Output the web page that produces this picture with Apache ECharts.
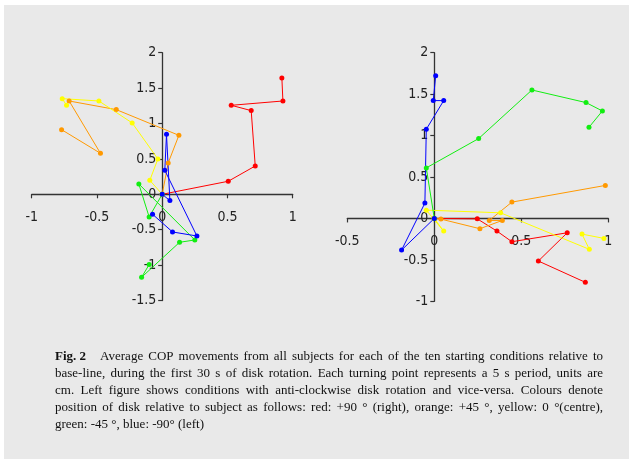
<!DOCTYPE html>
<html><head><meta charset="utf-8">
<script src="https://cdn.jsdelivr.net/npm/echarts@6/dist/echarts.min.js"></script>
<style>
html,body{margin:0;padding:0;background:#fff;}
#panel{position:absolute;left:4px;top:5px;width:625px;height:454px;background:#e9e9e9;}
#c{position:absolute;left:0;top:0;width:632px;height:459px;}
</style>
</head><body><div id="panel"></div><div id="c"></div>
<script>
// ---- data (x, y in cm) ----
const leftRed    = [[0,0],[0.506,0.184],[0.713,0.40],[0.682,1.182],[0.529,1.257],[0.925,1.318],[0.917,1.643]];
const leftOrange = [[0,0],[0.046,0.443],[0.128,0.833],[-0.352,1.196],[-0.713,1.318],[-0.473,0.579],[-0.771,0.913]];
const leftYellow = [[0,0],[-0.095,0.198],[-0.033,0.499],[-0.230,1.008],[-0.485,1.318],[-0.766,1.351],[-0.733,1.257]];
const leftGreen  = [[0,0],[-0.10,-0.32],[-0.179,0.146],[0.25,-0.645],[0.133,-0.678],[-0.158,-1.172],[-0.10,-0.993]];
const leftBlue   = [[0,0],[0.059,-0.089],[0.033,0.847],[0.020,0.339],[0.266,-0.589],[0.079,-0.532],[-0.074,-0.282]];

const rightRed    = [[0,0],[0.247,-0.005],[0.360,-0.153],[0.446,-0.281],[0.764,-0.173],[0.598,-0.514],[0.868,-0.771]];
const rightOrange = [[0,0],[0.038,-0.008],[0.262,-0.124],[0.391,-0.024],[0.316,-0.024],[0.446,0.197],[0.983,0.398]];
const rightYellow = [[0,0],[0.054,-0.153],[-0.046,0.100],[0.381,0.068],[0.891,-0.373],[0.849,-0.189],[0.975,-0.241]];
const rightGreen  = [[0,0],[-0.046,0.610],[0.255,0.964],[0.561,1.550],[0.872,1.398],[0.966,1.297],[0.889,1.100]];
const rightBlue   = [[0,0],[-0.188,-0.382],[-0.054,0.185],[-0.046,1.076],[0.054,1.422],[-0.006,1.422],[0.008,1.723]];

const leftXRange = [-1, 1];
const leftYRange = [-1.5, 2];
const rightXRange = [-0.5, 1];
const rightYRange = [-1, 2];
const tickStep = 0.5;

const captionLines = [
  "Fig. 2|Average COP movements from all subjects for each of the ten starting conditions relative to",
  "base-line, during the first 30 s of disk rotation. Each turning point represents a 5 s period, units are",
  "cm. Left figure shows conditions with anti-clockwise disk rotation and vice-versa. Colours denote",
  "position of disk relative to subject as follows: red: +90 \u00b0 (right), orange: +45 \u00b0, yellow: 0 \u00b0(centre),",
  "green: -45 \u00b0, blue: -90\u00b0 (left)"
];

const colors = {red:'#ff0000', orange:'#ff9900', yellow:'#ffff00', green:'#11ee11', blue:'#0000ff'};
const labelFont = "'Liberation Sans Narrow','Arial Narrow','DejaVu Sans Condensed',sans-serif";

const grids = [
  {left:31.7, top:52.7, width:261, height:247.8},
  {left:347.3, top:52.7, width:261, height:248.6}
];

// place each axis on the other axis' zero line (labels included)
function xAx(gi, r, yr){
  const g = grids[gi];
  const off = -g.height * (0 - yr[0]) / (yr[1] - yr[0]);
  return {type:'value', gridIndex:gi, min:r[0], max:r[1], interval:tickStep, position:'bottom', offset:off,
    axisLine:{onZero:false, lineStyle:{color:'#333', width:1.3}},
    axisTick:{length:4, lineStyle:{color:'#333', width:1.2}},
    splitLine:{show:false},
    axisLabel:{margin:16, color:'#222', fontFamily:labelFont, fontSize:14, hideOverlap:false,
      showMinLabel:true, showMaxLabel:true, formatter:v=>String(v)}};
}
function yAx(gi, r, xr){
  const g = grids[gi];
  const off = -g.width * (0 - xr[0]) / (xr[1] - xr[0]);
  return {type:'value', gridIndex:gi, min:r[0], max:r[1], interval:tickStep, position:'left', offset:off,
    axisLine:{onZero:false, lineStyle:{color:'#333', width:1.3}},
    axisTick:{length:4, lineStyle:{color:'#333', width:1.2}},
    splitLine:{show:false},
    axisLabel:{margin:6, color:'#222', fontFamily:labelFont, fontSize:14, hideOverlap:false,
      showMinLabel:true, showMaxLabel:true, formatter:v=>String(v)}};
}
function ser(idx, data, col){
  return {type:'line', xAxisIndex:idx, yAxisIndex:idx, data:data, symbol:'circle', symbolSize:5,
    lineStyle:{width:1, color:col}, itemStyle:{color:col}, z:2};
}

// caption layout (justified)
const capFont = 13, capX = 55, capW = 548, capY0 = 357, capDY = 17;
const mctx = document.createElement('canvas').getContext('2d');
function fontStr(b){ return (b?'bold ':'') + capFont + 'px "Liberation Serif"'; }
function mw(t,b){ mctx.font = fontStr(b); return mctx.measureText(t).width; }
const graphics = [];
captionLines.forEach((line, i) => {
  let toks = [];
  let extra = 0;
  if (line.indexOf('|') >= 0){
    const parts = line.split('|');
    toks.push({t:parts[0], b:true});
    extra = 9;
    parts[1].split(' ').forEach(w => toks.push({t:w, b:false}));
  } else {
    line.split(' ').forEach(w => toks.push({t:w, b:false}));
  }
  const widths = toks.map(k => mw(k.t, k.b));
  const total = widths.reduce((a,b)=>a+b,0) + extra;
  const last = i === captionLines.length - 1;
  const gap = last ? mw(' ', false) : (capW - total) / (toks.length - 1);
  let x = capX;
  const y = capY0 + i * capDY;
  toks.forEach((k, j) => {
    graphics.push({type:'text', x:x, y:y, silent:true,
      style:{text:k.t, font:fontStr(k.b), fill:'#111', verticalAlign:'middle', align:'left'}});
    x += widths[j] + gap + (j === 0 ? extra : 0);
  });
});

const chart = echarts.init(document.getElementById('c'), null, {renderer:'canvas'});
chart.setOption({
  animation:false,
  backgroundColor:'transparent',
  grid: grids,
  xAxis:[xAx(0,leftXRange,leftYRange), xAx(1,rightXRange,rightYRange)],
  yAxis:[yAx(0,leftYRange,leftXRange), yAx(1,rightYRange,rightXRange)],
  series:[
    ser(0,leftRed,colors.red), ser(0,leftOrange,colors.orange), ser(0,leftYellow,colors.yellow),
    ser(0,leftGreen,colors.green), ser(0,leftBlue,colors.blue),
    ser(1,rightRed,colors.red), ser(1,rightOrange,colors.orange), ser(1,rightYellow,colors.yellow),
    ser(1,rightGreen,colors.green), ser(1,rightBlue,colors.blue)
  ],
  graphic: graphics
});
</script>
</body></html>
